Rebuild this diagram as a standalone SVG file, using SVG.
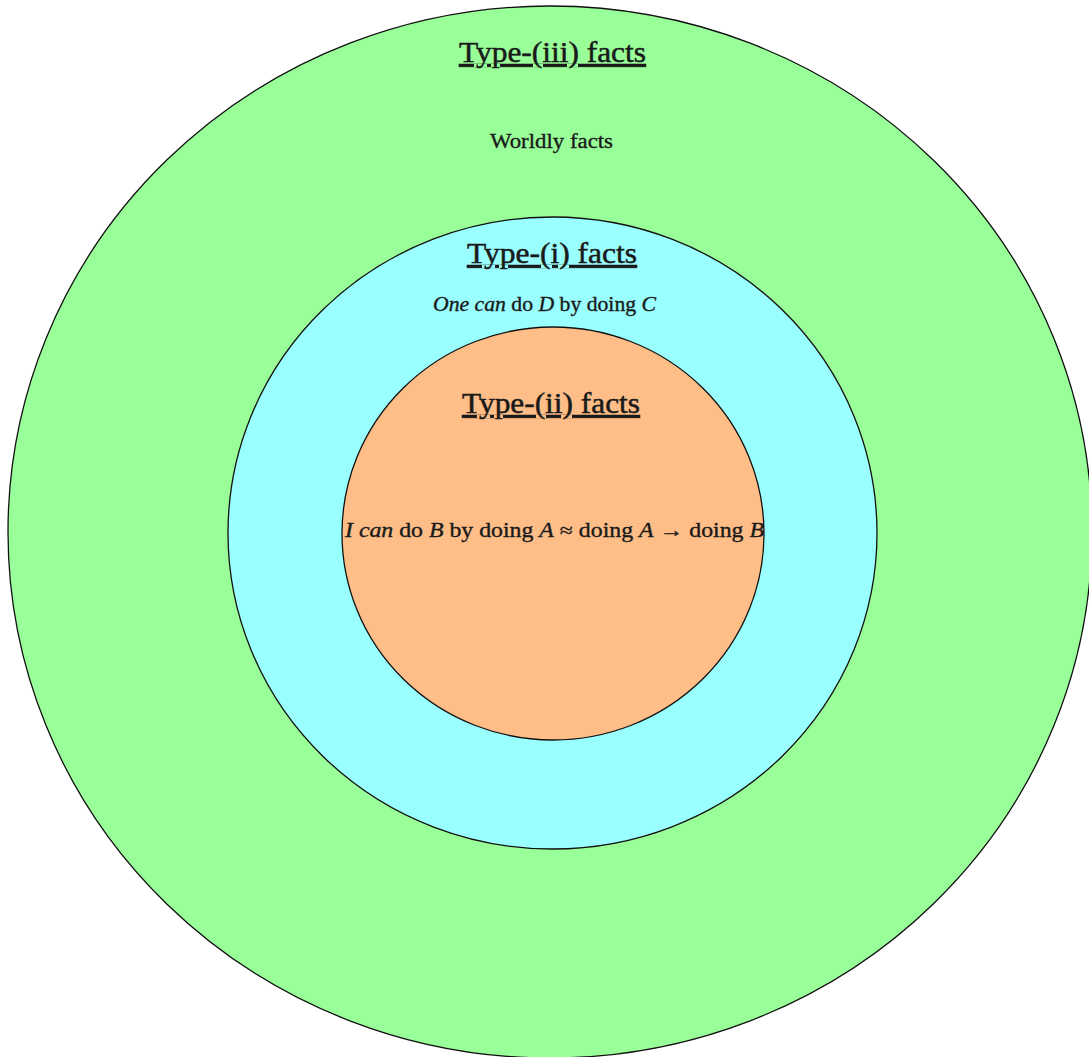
<svg xmlns="http://www.w3.org/2000/svg" width="1089" height="1057" viewBox="0 0 1089 1057">
  <style>
    .ring { stroke: #111; stroke-width: 1.3; }
    .title { font-family: "Liberation Serif", "DejaVu Serif", serif; font-size: 29px; fill: #1a1a1a; stroke: #1a1a1a; stroke-width: 0.5; text-decoration: underline; }
    .body { font-family: "Liberation Serif", "DejaVu Serif", serif; font-size: 20px; fill: #1a1a1a; stroke: #1a1a1a; stroke-width: 0.35; }
    .it { font-style: italic; }
  </style>
  <rect width="1089" height="1057" fill="#ffffff"/>

  <!-- outermost region: worldly facts -->
  <g id="type-iii">
    <ellipse class="ring" cx="550" cy="532" rx="542" ry="526" fill="#99FF99"/>
    <text class="title" x="552.5" y="62" text-anchor="middle" textLength="187" lengthAdjust="spacingAndGlyphs">Type-(iii) facts</text>
    <text class="body" x="551.5" y="148" text-anchor="middle" textLength="123" lengthAdjust="spacingAndGlyphs">Worldly facts</text>
  </g>

  <!-- middle region -->
  <g id="type-i">
    <ellipse class="ring" cx="552.5" cy="533" rx="324.5" ry="316" fill="#99FFFF"/>
    <text class="title" x="552" y="263" text-anchor="middle" textLength="170" lengthAdjust="spacingAndGlyphs">Type-(i) facts</text>
    <text class="body" x="544.5" y="311" text-anchor="middle" textLength="223" lengthAdjust="spacingAndGlyphs"><tspan class="it">One can</tspan> do <tspan class="it">D</tspan> by doing <tspan class="it">C</tspan></text>
  </g>

  <!-- innermost region -->
  <g id="type-ii">
    <ellipse class="ring" cx="553" cy="533.5" rx="211" ry="206.5" fill="#FFBE87"/>
    <text class="title" x="551" y="413" text-anchor="middle" textLength="178" lengthAdjust="spacingAndGlyphs">Type-(ii) facts</text>
    <text class="body" x="554.5" y="537" text-anchor="middle" textLength="419" lengthAdjust="spacingAndGlyphs"><tspan class="it">I can</tspan> do <tspan class="it">B</tspan> by doing <tspan class="it">A</tspan> ≈ doing <tspan class="it">A</tspan> → doing <tspan class="it">B</tspan></text>
  </g>
</svg>
